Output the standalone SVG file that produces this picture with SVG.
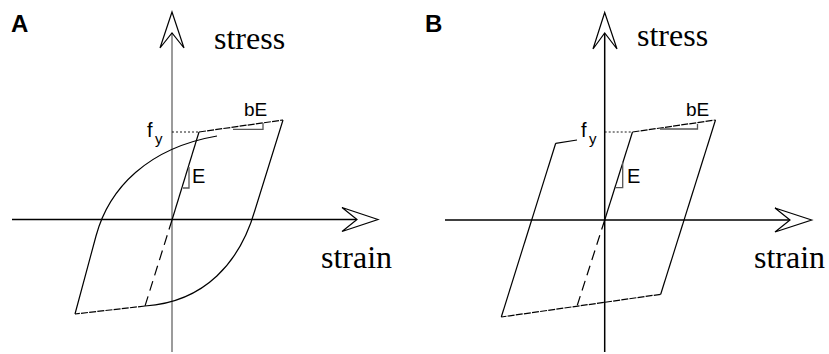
<svg xmlns="http://www.w3.org/2000/svg" width="829" height="354" viewBox="0 0 829 354">
  <style>
    .axis { stroke: #000; stroke-width: 1.5; fill: none; }
    .axis-gray { stroke: #7a7a7a; stroke-width: 1.5; fill: none; }
    .head { fill: #fff; stroke: #000; stroke-width: 1.2; stroke-linejoin: miter; }
    .curve { stroke: #000; stroke-width: 1.2; fill: none; }
    .fine-dash { stroke: #000; stroke-width: 1.2; fill: none; stroke-dasharray: 7 1.2; }
    .long-dash { stroke: #000; stroke-width: 1.2; fill: none; stroke-dasharray: 10 6; }
    .dotted { stroke: #000; stroke-width: 0.9; fill: none; stroke-dasharray: 2 2; }
    .tri { stroke: #555; stroke-width: 1.3; fill: none; }
    .panel { font-family: "Liberation Sans", Arial, sans-serif; font-weight: bold; font-size: 24px; fill: #000; }
    .axis-label { font-family: "Liberation Serif", "Times New Roman", serif; font-size: 32px; fill: #000; }
    .sym { font-family: "Liberation Sans", Arial, sans-serif; fill: #000; }
  </style>

  <rect width="829" height="354" fill="#fff"/>

  <!-- Panel A: curved (smooth transition) hysteresis -->
  <g id="panel-a">
    <text class="panel" x="11" y="32">A</text>
    <g id="a-axes">
      <line class="axis-gray" x1="172" y1="33" x2="172" y2="352"/>
      <polygon class="head" points="172,12 184,48 172,33 160,48"/>
      <line class="axis" x1="12" y1="219.5" x2="357" y2="219.5"/>
      <polygon class="head" points="378,219.5 342,207.5 357,219.5 342,231.5"/>
      <text class="axis-label" x="214" y="49">stress</text>
      <text class="axis-label" x="321" y="268">strain</text>
    </g>
    <g id="a-loop">
      <line class="curve" x1="172" y1="220" x2="199" y2="132"/>
      <line class="fine-dash" x1="199" y1="132" x2="283" y2="120"/>
      <path class="curve" d="M283,120 L255,210 C240,262 205,302 145,306"/>
      <line class="fine-dash" x1="145" y1="306" x2="75" y2="314"/>
      <path class="curve" d="M75,314 L96,236 C109,188 148,148 217,136"/>
      <line class="long-dash" x1="172" y1="220" x2="145" y2="306"/>
    </g>
    <g id="a-annotations">
      <line class="dotted" x1="172" y1="132" x2="199" y2="132"/>
      <polyline class="tri" points="233,129.3 263,129.3 263,123"/>
      <polyline class="tri" points="189,167 189,188 183,188"/>
      <text class="sym" x="147" y="137" font-size="20">f</text>
      <text class="sym" x="155" y="144" font-size="15">y</text>
      <text class="sym" x="244" y="116" font-size="19">bE</text>
      <text class="sym" x="192" y="183" font-size="20">E</text>
    </g>
  </g>

  <!-- Panel B: bilinear hysteresis -->
  <g id="panel-b">
    <text class="panel" x="425" y="32">B</text>
    <g id="b-axes">
      <line class="axis" x1="604.7" y1="33" x2="604.7" y2="352"/>
      <polygon class="head" points="604.7,12.5 617,49 604.7,33 593,49"/>
      <line class="axis" x1="445" y1="220" x2="790" y2="220"/>
      <polygon class="head" points="811.7,220 775,208 790,220 775,232"/>
      <text class="axis-label" x="637" y="46">stress</text>
      <text class="axis-label" x="754" y="268">strain</text>
    </g>
    <g id="b-loop">
      <line class="curve" x1="604.7" y1="220" x2="632.5" y2="132"/>
      <line class="fine-dash" x1="632.5" y1="132" x2="715.5" y2="120"/>
      <line class="curve" x1="715.5" y1="120" x2="660.7" y2="294.3"/>
      <line class="fine-dash" x1="660.7" y1="294.3" x2="501.3" y2="317"/>
      <line class="curve" x1="501.3" y1="317" x2="555.7" y2="143.3"/>
      <line class="curve" x1="555.7" y1="143.3" x2="577" y2="140"/>
      <line class="long-dash" x1="604.7" y1="220" x2="577.3" y2="305.3"/>
    </g>
    <g id="b-annotations">
      <line class="dotted" x1="604.7" y1="132" x2="632.5" y2="132"/>
      <polyline class="tri" points="660,129 697.5,129 697.5,124"/>
      <polyline class="tri" points="622.7,161.7 622.7,187.7 615,187.7"/>
      <text class="sym" x="581" y="137" font-size="20">f</text>
      <text class="sym" x="589" y="144" font-size="15">y</text>
      <text class="sym" x="686" y="116" font-size="19">bE</text>
      <text class="sym" x="627" y="183" font-size="20">E</text>
    </g>
  </g>
</svg>
